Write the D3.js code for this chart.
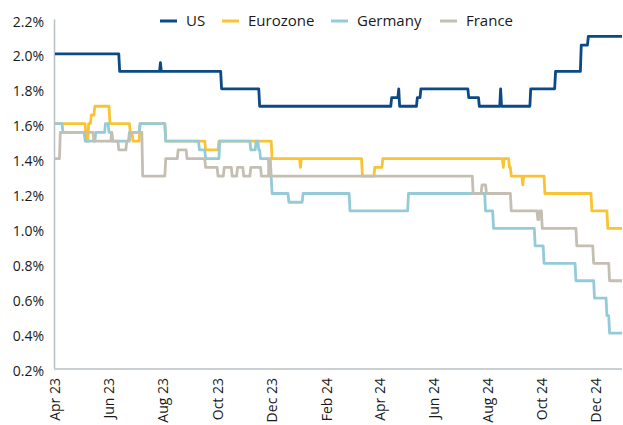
<!DOCTYPE html>
<html>
<head>
<meta charset="utf-8">
<script src="https://cdn.jsdelivr.net/npm/d3@7/dist/d3.min.js"></script>
<style>
  html, body { margin: 0; padding: 0; background: #fff; }
  svg text { font-family: "Open Sans", "Noto Sans", sans-serif; fill: #1a1a1a; }
</style>
</head>
<body>
<svg id="chart" width="623" height="425"></svg>
<script>
// series: each entry is the date a level starts and the level (%)
var startDate = "2023-04-01";
var endDate = "2024-12-31";

var usDates = ["2023-04-01", "2023-06-13", "2023-07-29", "2023-07-30", "2023-10-06", "2023-11-18",
    "2024-04-15", "2024-04-23", "2024-04-24", "2024-05-14", "2024-05-18", "2024-07-11", "2024-07-23",
    "2024-08-16", "2024-08-17", "2024-09-19", "2024-10-17", "2024-11-15", "2024-11-23"];
var usValues = [2.0, 1.9, 1.95, 1.9, 1.8, 1.7,
    1.75, 1.8, 1.7, 1.75, 1.8, 1.75, 1.7,
    1.8, 1.7, 1.8, 1.9, 2.05, 2.1];

var euroDates = ["2023-04-01", "2023-05-06", "2023-05-09", "2023-05-12", "2023-05-16", "2023-06-02",
    "2023-06-25", "2023-06-28", "2023-07-06", "2023-08-04", "2023-09-18", "2023-10-03", "2023-12-02",
    "2024-01-03", "2024-01-04", "2024-03-13", "2024-03-27", "2024-04-05", "2024-08-19", "2024-08-20",
    "2024-08-26", "2024-08-28", "2024-09-10", "2024-09-11", "2024-10-05", "2024-11-27", "2024-12-15"];
var euroValues = [1.6, 1.5, 1.6, 1.65, 1.7, 1.6,
    1.55, 1.5, 1.6, 1.5, 1.45, 1.5, 1.4,
    1.35, 1.4, 1.3, 1.35, 1.4, 1.35, 1.4,
    1.35, 1.3, 1.25, 1.3, 1.2, 1.1, 1.0];

var germanyDates = ["2023-04-01", "2023-04-10", "2023-05-05", "2023-05-17", "2023-05-28", "2023-06-01",
    "2023-06-05", "2023-06-24", "2023-07-06", "2023-08-04", "2023-09-11", "2023-09-18", "2023-10-04",
    "2023-11-08", "2023-11-14", "2023-11-17", "2023-11-19", "2023-11-29", "2023-12-02", "2023-12-21",
    "2024-01-06", "2024-02-28", "2024-05-04", "2024-07-30", "2024-08-08", "2024-09-24", "2024-10-04",
    "2024-11-09", "2024-11-30", "2024-12-14", "2024-12-17"];
var germanyValues = [1.6, 1.55, 1.5, 1.55, 1.6, 1.55,
    1.5, 1.55, 1.6, 1.5, 1.45, 1.4, 1.5,
    1.45, 1.5, 1.45, 1.4, 1.3, 1.2, 1.15,
    1.2, 1.1, 1.2, 1.1, 1.0, 0.9, 0.8,
    0.7, 0.6, 0.5, 0.4];

var franceDates = ["2023-04-01", "2023-04-07", "2023-05-15", "2023-06-04", "2023-06-05", "2023-06-12",
    "2023-06-21", "2023-06-25", "2023-07-09", "2023-08-04", "2023-08-18", "2023-08-28", "2023-09-18",
    "2023-10-02", "2023-10-09", "2023-10-18", "2023-10-24", "2023-10-31", "2023-11-08", "2023-11-20",
    "2023-11-29", "2023-12-01", "2024-07-16", "2024-07-26", "2024-07-31", "2024-08-28", "2024-09-27",
    "2024-09-29", "2024-10-02", "2024-11-10", "2024-11-29", "2024-12-17"];
var franceValues = [1.4, 1.55, 1.5, 1.55, 1.5, 1.45,
    1.5, 1.55, 1.3, 1.4, 1.45, 1.4, 1.35,
    1.3, 1.35, 1.3, 1.35, 1.3, 1.35, 1.3,
    1.4, 1.3, 1.2, 1.25, 1.2, 1.1, 1.05,
    1.1, 1.0, 0.9, 0.8, 0.7];

var seriesNames = ["US", "Eurozone", "Germany", "France"];
var seriesColors = ["#0b4a84", "#f8c433", "#95cbd9", "#c5bfb3"];

var yTicks = [0.2, 0.4, 0.6, 0.8, 1.0, 1.2, 1.4, 1.6, 1.8, 2.0, 2.2];
var xTicks = ["2023-04-01", "2023-06-01", "2023-08-01", "2023-10-01", "2023-12-01",
    "2024-02-01", "2024-04-01", "2024-06-01", "2024-08-01", "2024-10-01", "2024-12-01"];

var parse = d3.timeParse("%Y-%m-%d");
var fmtX = d3.timeFormat("%b %y");

var svg = d3.select("#chart");

var x = d3.scaleTime()
    .domain([parse(startDate), parse(endDate)])
    .range([55, 622]);

var y = d3.scaleLinear()
    .domain([0.2, 2.2])
    .range([368, 19]);

// turn level changes into points: each level holds until the day before the next one
function toPoints(dates, values){
    var pts = [];
    for(var i = 0; i < dates.length; i++){
        var d = parse(dates[i]);
        pts.push({d: d, v: values[i]});
        if(i < dates.length - 1){
            var next = d3.timeDay.offset(parse(dates[i + 1]), -1);
            if(next > d) pts.push({d: next, v: values[i]});
        }
        else{
            pts.push({d: parse(endDate), v: values[i]});
        }
    }
    return pts;
}

var series = [
    {name: "Eurozone", pts: toPoints(euroDates, euroValues)},
    {name: "Germany", pts: toPoints(germanyDates, germanyValues)},
    {name: "France", pts: toPoints(franceDates, franceValues)},
    {name: "US", pts: toPoints(usDates, usValues)}
];

var color = d3.scaleOrdinal().domain(seriesNames).range(seriesColors);

// axes
var yAxis = svg.append("g")
    .attr("transform", "translate(54,0)")
    .call(d3.axisLeft(y).tickValues(yTicks).tickSize(0).tickPadding(10)
        .tickFormat(function(d){ return d.toFixed(1) + "%"; }));
yAxis.select(".domain").attr("stroke", "#b9c0c6").attr("stroke-width", 1.5);
yAxis.selectAll("text").attr("font-size", "14px").attr("dy", "0.5em");

var xAxis = svg.append("g")
    .attr("transform", "translate(0,369)")
    .call(d3.axisBottom(x).tickValues(xTicks.map(parse)).tickSize(0).tickFormat(fmtX));
xAxis.select(".domain").attr("stroke", "#b9c0c6").attr("stroke-width", 1.5).attr("d", "M54,0H622");
xAxis.selectAll("text")
    .attr("font-size", "14px")
    .attr("transform", "rotate(-90)")
    .attr("text-anchor", "end")
    .attr("x", -9)
    .attr("y", 0)
    .attr("dy", "0.35em");

// lines
var line = d3.line()
    .x(function(d){ return x(d.d); })
    .y(function(d){ return y(d.v); });

svg.append("g").selectAll("path")
    .data(series)
    .enter()
    .append("path")
    .attr("d", function(d){ return line(d.pts); })
    .attr("fill", "none")
    .attr("stroke", function(d){ return color(d.name); })
    .attr("stroke-width", 2.8)
    .attr("stroke-linejoin", "round");

// legend
var legendX = [160, 222, 331, 440];
var legend = svg.append("g").selectAll("g")
    .data(seriesNames)
    .enter()
    .append("g")
    .attr("transform", function(d, i){ return "translate(" + legendX[i] + ",21)"; });
legend.append("line")
    .attr("x1", 0).attr("x2", 17)
    .attr("stroke", function(d){ return color(d); })
    .attr("stroke-width", 3);
legend.append("text")
    .attr("x", 26)
    .attr("dy", "0.35em")
    .attr("font-size", "15px")
    .text(function(d){ return d; });
</script>
</body>
</html>
